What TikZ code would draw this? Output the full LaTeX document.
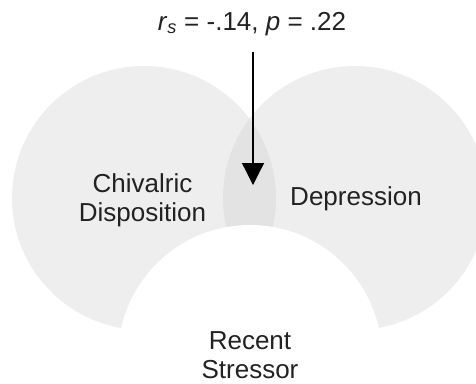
\documentclass[tikz,border=0pt]{standalone}
\usepackage{fontspec}
\setmainfont{Liberation Sans}
\usetikzlibrary{arrows.meta}
\definecolor{setfill}{HTML}{EEEEEE}
\definecolor{overlapfill}{HTML}{E3E3E3}
\definecolor{txt}{HTML}{222222}
\begin{document}
\begin{tikzpicture}[x=1pt,y=-1pt,
  setcircle/.style={circle,minimum size=264pt,inner sep=0pt,fill=setfill},
  label/.style={inner sep=0pt,text=txt,font=\fontsize{26}{29}\selectfont,align=center},
  conn/.style={line width=1.3pt,-{Triangle[width=22pt,length=22pt]}}]
\useasboundingbox (0,0) rectangle (476,383);
\node[setcircle] (chiv) at (144,198) {};
\node[setcircle] (depr) at (355,198) {};
\begin{scope}
  \clip (144,198) circle [radius=132pt];
  \fill[overlapfill] (355,198) circle [radius=132pt];
\end{scope}
\node[setcircle,fill=white] (stress) at (250,357) {};
\node[label,anchor=north] (chivtxt) at (142.5,173.5) {Chivalric\\Disposition};
\node[label,anchor=base] (deprtxt) at (356,205) {Depression};
\node[label,anchor=north] (stresstxt) at (250,331) {Recent\\Stressor};
\node[label,anchor=base] (stat) at (252,30) {\textit{r}\textsubscript{\textit{s}} = -.14, \textit{p} = .22};
\coordinate (astart) at (253,52);
\coordinate (aend) at (253,185);
\draw[conn] (astart) -- (aend);
\end{tikzpicture}
\end{document}
